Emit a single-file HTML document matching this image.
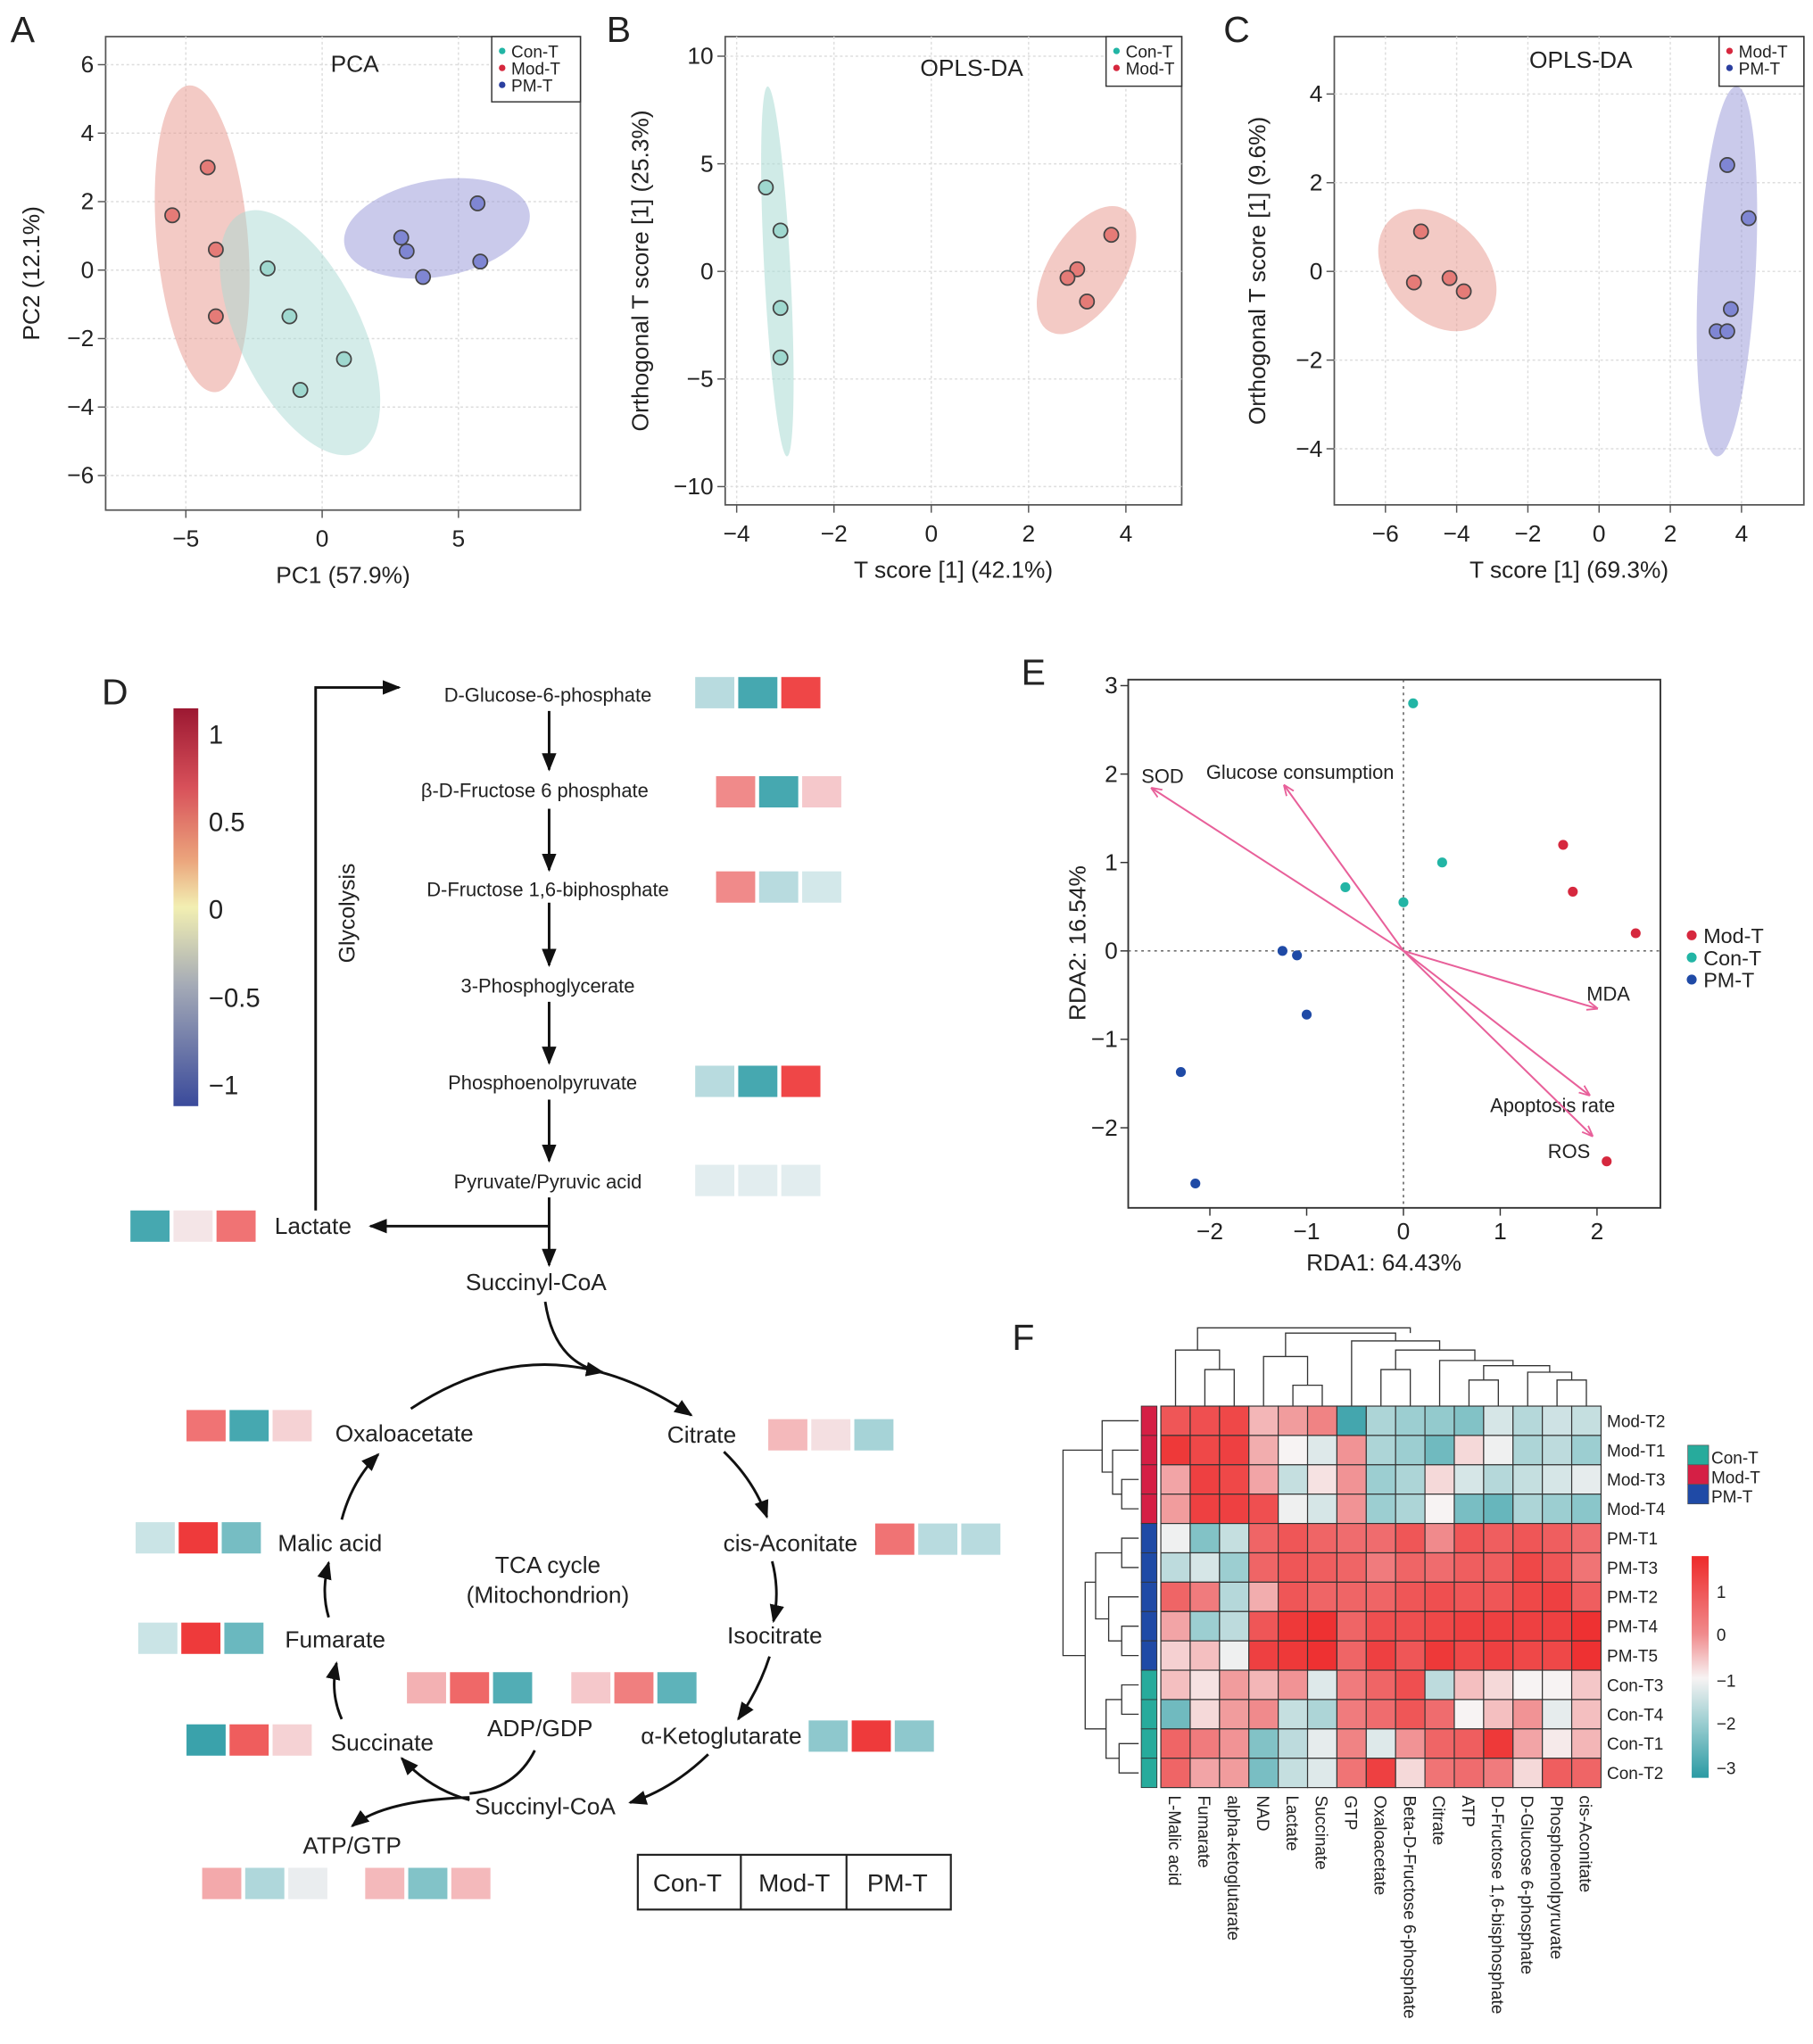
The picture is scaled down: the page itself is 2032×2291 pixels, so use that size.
<!DOCTYPE html>
<html><head><meta charset="utf-8"><style>
html,body{margin:0;padding:0;background:#fff}
svg{display:block}
text{font-family:"Liberation Sans",Arial,sans-serif;fill:#222}
</style></head><body>
<svg id="fig" width="2032" height="2291" viewBox="0 0 1390 1567" xmlns="http://www.w3.org/2000/svg">
<defs>
<marker id="ah" viewBox="0 0 10 10" refX="9" refY="5" markerWidth="7" markerHeight="7" orient="auto-start-reverse"><path d="M0,1 L10,5 L0,9 z" fill="#111"/></marker>
<marker id="ahp" viewBox="0 0 10 10" refX="9" refY="5" markerWidth="6" markerHeight="6" orient="auto"><path d="M0,1 L10,5 L0,9" fill="none" stroke="#e8609a" stroke-width="1.5"/></marker>
<linearGradient id="gD" x1="0" y1="0" x2="0" y2="1">
<stop offset="0" stop-color="#9c1832"/><stop offset="0.2" stop-color="#d8515a"/><stop offset="0.38" stop-color="#eba47c"/><stop offset="0.5" stop-color="#f2efb2"/><stop offset="0.7" stop-color="#a3a9b6"/><stop offset="1" stop-color="#3a4a9b"/></linearGradient>
<linearGradient id="gF" x1="0" y1="0" x2="0" y2="1">
<stop offset="0" stop-color="#ee2a2a"/><stop offset="0.35" stop-color="#f08a8c"/><stop offset="0.55" stop-color="#f7f3f3"/><stop offset="0.75" stop-color="#9cced1"/><stop offset="1" stop-color="#2a9aa3"/></linearGradient>
</defs>

<g font-size="28">
<text x="8" y="32">A</text><text x="465" y="32">B</text><text x="938" y="32">C</text>
<text x="78" y="540">D</text><text x="783" y="525">E</text><text x="776" y="1035">F</text>
</g>

<g id="pA"></g>
<g id="pB"></g>
<g id="pC"></g>
<g id="pE"></g>
<g id="pF"></g>

<g>
<rect x="133" y="543" width="19" height="305" fill="url(#gD)"/>
<g font-size="20">
<text x="160" y="570">1</text><text x="160" y="637">0.5</text><text x="160" y="704">0</text><text x="160" y="772">−0.5</text><text x="160" y="839">−1</text></g>
<text font-size="17" transform="translate(272,700) rotate(-90)" text-anchor="middle">Glycolysis</text>
<g font-size="15" text-anchor="middle">
<text x="420" y="538">D-Glucose-6-phosphate</text>
<text x="410" y="611">β-D-Fructose 6 phosphate</text>
<text x="420" y="687">D-Fructose 1,6-biphosphate</text>
<text x="420" y="761">3-Phosphoglycerate</text>
<text x="416" y="835">Phosphoenolpyruvate</text>
<text x="420" y="911">Pyruvate/Pyruvic acid</text>
</g>
<g font-size="18" text-anchor="middle">
<text x="240" y="946">Lactate</text><text x="411" y="989">Succinyl-CoA</text>
<text x="310" y="1105">Oxaloacetate</text><text x="538" y="1106">Citrate</text>
<text x="253" y="1189">Malic acid</text><text x="606" y="1189">cis-Aconitate</text>
<text x="420" y="1206">TCA cycle</text><text x="420" y="1229">(Mitochondrion)</text>
<text x="257" y="1263">Fumarate</text><text x="594" y="1260">Isocitrate</text>
<text x="414" y="1331">ADP/GDP</text><text x="553" y="1337">α-Ketoglutarate</text>
<text x="293" y="1342">Succinate</text><text x="418" y="1391">Succinyl-CoA</text>
<text x="270" y="1421">ATP/GTP</text>
</g>
<g stroke="#111" stroke-width="2" fill="none">
<path d="M421,545 V590" marker-end="url(#ah)"/><path d="M421,620 V667" marker-end="url(#ah)"/>
<path d="M421,692 V740" marker-end="url(#ah)"/><path d="M421,768 V815" marker-end="url(#ah)"/>
<path d="M421,843 V890" marker-end="url(#ah)"/><path d="M421,918 V970" marker-end="url(#ah)"/>
<path d="M421,940 H284" marker-end="url(#ah)"/>
<path d="M242,928 V527 H306" marker-end="url(#ah)"/>
<path d="M418,998 Q425,1045 462,1052" marker-end="url(#ah)"/>
<path d="M315,1080 Q420,1010 530,1085" marker-end="url(#ah)"/>
<path d="M555,1113 Q578,1135 588,1163" marker-end="url(#ah)"/>
<path d="M592,1197 Q598,1220 593,1243" marker-end="url(#ah)"/>
<path d="M590,1270 Q582,1295 566,1318" marker-end="url(#ah)"/>
<path d="M543,1345 Q515,1372 483,1382" marker-end="url(#ah)"/>
<path d="M360,1380 Q330,1372 308,1348" marker-end="url(#ah)"/>
<path d="M262,1318 Q253,1298 258,1275" marker-end="url(#ah)"/>
<path d="M252,1240 Q246,1220 252,1198" marker-end="url(#ah)"/>
<path d="M262,1165 Q270,1135 290,1115" marker-end="url(#ah)"/>
<path d="M410,1342 Q395,1372 360,1375"/>
<path d="M360,1378 Q295,1380 270,1400" marker-end="url(#ah)"/>
</g>
<g id="sq"></g>
<g fill="none" stroke="#222" stroke-width="1.5">
<rect x="489" y="1422" width="240" height="42"/><line x1="568" y1="1422" x2="568" y2="1464"/><line x1="649" y1="1422" x2="649" y2="1464"/></g>
<g font-size="19" text-anchor="middle"><text x="527" y="1450">Con-T</text><text x="609" y="1450">Mod-T</text><text x="688" y="1450">PM-T</text></g>
</g>
</svg>

<script>
// ---------- data ----------
const pcaCon=[[-2.0,0.05],[-1.2,-1.35],[0.8,-2.6],[-0.8,-3.5]];
const pcaMod=[[-4.2,3.0],[-5.5,1.6],[-3.9,0.6],[-3.9,-1.35]];
const pcaPM=[[2.9,0.95],[3.1,0.55],[3.7,-0.2],[5.7,1.95],[5.8,0.25]];
const oplsBCon=[[-3.4,3.9],[-3.1,1.9],[-3.1,-1.7],[-3.1,-4.0]];
const oplsBMod=[[3.7,1.7],[3.0,0.1],[2.8,-0.3],[3.2,-1.4]];
const oplsCMod=[[-5.0,0.9],[-5.2,-0.25],[-4.2,-0.15],[-3.8,-0.45]];
const oplsCPM=[[3.6,2.4],[4.2,1.2],[3.7,-0.85],[3.3,-1.35],[3.6,-1.35]];
const ticksAx=[-5,0,5], ticksAy=[-6,-4,-2,0,2,4,6];
const ticksBx=[-4,-2,0,2,4], ticksBy=[-10,-5,0,5,10];
const ticksCx=[-6,-4,-2,0,2,4], ticksCy=[-4,-2,0,2,4];
const rdaCon=[[0.1,2.8],[0.4,1.0],[0.0,0.55],[-0.6,0.72]];
const rdaMod=[[1.65,1.2],[1.75,0.67],[2.4,0.2],[2.1,-2.38]];
const rdaPM=[[-1.25,0.0],[-1.1,-0.05],[-1.0,-0.72],[-2.3,-1.37],[-2.15,-2.63]];
const rdaVarNames=["SOD","Glucose consumption","MDA","Apoptosis rate","ROS"];
const rdaVarX=[-2.6,-1.23,2.0,1.92,1.95];
const rdaVarY=[1.84,1.87,-0.65,-1.63,-2.09];
const ticksEx=[-2,-1,0,1,2], ticksEy=[-2,-1,0,1,2,3];
const heatCols=["L-Malic acid","Fumarate","alpha-ketoglutarate","NAD","Lactate","Succinate","GTP","Oxaloacetate","Beta-D-Fructose 6-phosphate","Citrate","ATP","D-Fructose 1,6-bisphosphate","D-Glucose 6-phosphate","Phosphoenolpyruvate","cis-Aconitate"];
const heatRows=["Mod-T2","Mod-T1","Mod-T3","Mod-T4","PM-T1","PM-T3","PM-T2","PM-T4","PM-T5","Con-T3","Con-T4","Con-T1","Con-T2"];
const heatGroups=["Mod","Mod","Mod","Mod","PM","PM","PM","PM","PM","Con","Con","Con","Con"];
const heatVals=[
[1,1.1,1.2,-0.2,0.1,0.4,-3,-1.8,-2,-2.1,-2.3,-1.3,-1.7,-1.4,-1.5],
[1.4,1.2,1.3,-0.1,-0.9,-1.2,0.2,-1.8,-2,-2.5,-0.6,-1,-1.8,-1.6,-2],
[0,1.3,1.2,0,-1.5,-0.7,0.2,-2,-1.8,-0.6,-1.3,-1.7,-1.5,-1.3,-1.1],
[0.1,1.3,1.3,1.1,-1,-1.3,0.2,-2,-1.8,-0.9,-2.4,-2.6,-1.8,-2,-2.2],
[-1,-2.3,-1.5,0.8,1,0.8,0.7,0.7,1,0.3,1,0.9,1,0.9,0.7],
[-1.6,-1.3,-2,0.8,1,0.9,0.8,0.5,0.8,0.7,0.9,0.9,1.2,1,0.6],
[0.8,0.5,-1.7,-0.1,1,0.8,0.8,0.8,1,1.1,1,1,1.2,1.3,0.9],
[0,-2,-1.6,1,1.4,1.5,0.8,1.1,1.1,1.2,1.3,1.3,1.3,1.3,1.5],
[-0.5,-0.3,-1,1.3,1.4,1.5,0.8,1.3,1,1.4,1.2,1.3,1.2,1.2,1.5],
[-0.3,-0.7,0.1,-0.2,0.2,-1.2,0.5,0.8,1.1,-1.6,-0.3,-0.6,-0.9,-0.9,-0.4],
[-2.5,-0.6,0.1,0.3,-1.5,-1.8,0.5,0.7,1,0.7,-0.9,-0.3,0.2,-1.1,-0.3],
[0.8,0.5,0.2,-2.3,-1.6,-1.1,0.4,-1.2,0.2,0.8,0.9,1.4,0,-0.8,-0.2],
[0.8,0,0.1,-2.4,-1.5,-1.2,0.6,1.3,-0.6,0.6,0.7,0.5,-0.6,0.9,0.8]];
const sqNames=["glucose-6-phosphate","fructose-6-phosphate","fructose-16-biphosphate","phosphoenolpyruvate","pyruvate","lactate","oxaloacetate","citrate","malic-acid","cis-aconitate","fumarate","adp","gdp","succinate","alpha-ketoglutarate","atp","gtp"];
const sqVals=[[-0.4,-0.9,0.9],[0.6,-0.9,0.2],[0.6,-0.4,-0.25],[-0.4,-0.9,0.9],[-0.15,-0.15,-0.15],[-0.9,0.05,0.7],[0.7,-0.9,0.15],[0.3,0.08,-0.5],[-0.3,0.95,-0.7],[0.7,-0.4,-0.4],[-0.3,0.95,-0.75],[0.35,0.75,-0.85],[0.2,0.65,-0.8],[-0.95,0.8,0.15],[-0.6,0.95,-0.6],[0.4,-0.45,-0.08],[0.3,-0.65,0.3]];
const sqX=[533,549,549,533,533,100,143,589,104,671,106,312,438,143,620,155,280];
const sqY=[519,595,668,817,893,928,1081,1088,1167,1168,1244,1282,1282,1322,1319,1432,1432];

// ---------- helpers ----------
const NS="http://www.w3.org/2000/svg";
function mk(parent,tag,attrs,txt){const e=document.createElementNS(NS,tag);for(const k in attrs)e.setAttribute(k,attrs[k]);if(txt!==undefined)e.textContent=txt;parent.appendChild(e);return e;}
function lerp(a,b,t){return a+(b-a)*t}
function hex(c){return [parseInt(c.slice(1,3),16),parseInt(c.slice(3,5),16),parseInt(c.slice(5,7),16)]}
function ramp(stops,v){if(v>=stops[0][0])return stops[0][1];for(let i=0;i<stops.length-1;i++){const a=stops[i],b=stops[i+1];if(v<=a[0]&&v>=b[0]){const t=(a[0]-v)/(a[0]-b[0]);const ca=hex(a[1]),cb=hex(b[1]);return `rgb(${Math.round(lerp(ca[0],cb[0],t))},${Math.round(lerp(ca[1],cb[1],t))},${Math.round(lerp(ca[2],cb[2],t))})`;}}return stops[stops.length-1][1];}
const heatStops=[[1.6,"#ee2a2a"],[0.3,"#f08a8c"],[-0.9,"#f7f3f3"],[-2.0,"#9cced1"],[-3.3,"#2a9aa3"]];
const sqStops=[[1,"#ee2f30"],[0.6,"#f08a8a"],[0.2,"#f5c8cb"],[0,"#f4eef0"],[-0.2,"#dcecee"],[-0.5,"#a6d3d7"],[-1,"#2e9da6"]];
function fmt(t){return t<0?"−"+(-t):""+t}

function scatterPanel(g,box,sx,sy,tx,ty,title,titlePos,xlab,ylab,ylabX,xtickY,groups,ells,legend){
  const r=mk(g,"rect",{x:box[0],y:box[1],width:box[2]-box[0],height:box[3]-box[1],fill:"none",stroke:"#555","stroke-width":1.2});
  
  for(const t of tx){mk(g,"line",{x1:sx(t),x2:sx(t),y1:box[1],y2:box[3],stroke:"#ddd","stroke-dasharray":"2,2"});
    mk(g,"line",{x1:sx(t),x2:sx(t),y1:box[3],y2:box[3]+6,stroke:"#555"});
    const l=mk(g,"text",{x:sx(t),y:xtickY,"font-size":18,"text-anchor":"middle"},fmt(t));
    }
  for(const t of ty){mk(g,"line",{x1:box[0],x2:box[2],y1:sy(t),y2:sy(t),stroke:"#ddd","stroke-dasharray":"2,2"});
    mk(g,"line",{x1:box[0]-6,x2:box[0],y1:sy(t),y2:sy(t),stroke:"#555"});
    const l=mk(g,"text",{x:box[0]-9,y:sy(t)+6,"font-size":18,"text-anchor":"end"},fmt(t));
    }
  for(const e of ells){const el=mk(g,"ellipse",{cx:e[0],cy:e[1],rx:e[2],ry:e[3],fill:e[5],transform:`rotate(${e[4]} ${e[0]} ${e[1]})`});
    }
  for(const gr of groups){for(const p of gr[0]){const c=mk(g,"circle",{cx:sx(p[0]),cy:sy(p[1]),r:5.5,fill:gr[1],stroke:"#444","stroke-width":1.2});
    }}
  const tt=mk(g,"text",{x:titlePos[0],y:titlePos[1],"font-size":18,"text-anchor":"middle"},title);
  
  const xl=mk(g,"text",{x:(box[0]+box[2])/2,y:xtickY+28,"font-size":18,"text-anchor":"middle"},xlab);
  
  const yl=mk(g,"text",{x:0,y:0,"font-size":18,"text-anchor":"middle",transform:`translate(${ylabX},${(box[1]+box[3])/2}) rotate(-90)`},ylab);
  
  const lg=mk(g,"g",{});
  
  mk(lg,"rect",{x:legend[0],y:box[1],width:box[2]-legend[0],height:legend[1],fill:"#fff",stroke:"#333","stroke-width":1});
  legend[2].forEach((it,i)=>{mk(lg,"circle",{cx:legend[0]+8,cy:box[1]+11+i*13,r:2.5,fill:it[1]});
    const lt=mk(lg,"text",{x:legend[0]+15,y:box[1]+16+i*13,"font-size":13},it[0]);
    });
}

const xA=v=>247+v*20.9, yA=v=>207-v*26.25;
scatterPanel(document.getElementById("pA"),[81,28,445,391],xA,yA,ticksAx,ticksAy,"PCA",[272,55],"PC1 (57.9%)","PC2 (12.1%)",30,419,
 [[pcaMod,"#e57b77"],[pcaCon,"#9fd8cf"],[pcaPM,"#7f86d3"]],
 [[155,183,35,118,-5,"rgba(232,150,140,0.5)"],[230,255,47,102,-26,"rgba(170,218,212,0.5)"],[335,175,72,37,-10,"rgba(150,150,215,0.5)"]],
 [377,50,[["Con-T","#22b5a5"],["Mod-T","#d6283e"],["PM-T","#2b3fa0"]]]);
const xB=v=>714+v*37.3, yB=v=>208-v*16.5;
scatterPanel(document.getElementById("pB"),[556,28,906,387],xB,yB,ticksBx,ticksBy,"OPLS-DA",[745,58],"T score [1] (42.1%)","Orthogonal T score [1] (25.3%)",497,415,
 [[oplsBCon,"#9fd8cf"],[oplsBMod,"#e57b77"]],
 [[596,208,10,142,-3,"rgba(170,218,212,0.55)"],[833,207,29,55,32,"rgba(232,150,140,0.5)"]],
 [848,38,[["Con-T","#22b5a5"],["Mod-T","#d6283e"]]]);
const xC=v=>1226+v*27.3, yC=v=>208-v*34;
scatterPanel(document.getElementById("pC"),[1023,28,1383,387],xC,yC,ticksCx,ticksCy,"OPLS-DA",[1212,52],"T score [1] (69.3%)","Orthogonal T score [1] (9.6%)",970,415,
 [[oplsCMod,"#e57b77"],[oplsCPM,"#7f86d3"]],
 [[1102,207,38,53,-42,"rgba(232,150,140,0.5)"],[1324,208,22,142,3,"rgba(150,150,215,0.5)"]],
 [1318,38,[["Mod-T","#d6283e"],["PM-T","#2b3fa0"]]]);

(function(){
 const g=document.getElementById("pE");
 const xE=v=>1076+v*74.2, yE=v=>729-v*67.8;
 const fr=mk(g,"rect",{x:865,y:521,width:408,height:405,fill:"none",stroke:"#333","stroke-width":1.3});
 
 mk(g,"line",{x1:xE(0),x2:xE(0),y1:521,y2:926,stroke:"#555","stroke-dasharray":"2,3"});
 mk(g,"line",{x1:865,x2:1273,y1:yE(0),y2:yE(0),stroke:"#555","stroke-dasharray":"2,3"});
 for(const t of ticksEx){mk(g,"line",{x1:xE(t),x2:xE(t),y1:926,y2:932,stroke:"#333"});
  const l=mk(g,"text",{x:xE(t),y:950,"font-size":18,"text-anchor":"middle"},fmt(t));
  }
 for(const t of ticksEy){mk(g,"line",{x1:859,x2:865,y1:yE(t),y2:yE(t),stroke:"#333"});
  const l=mk(g,"text",{x:857,y:yE(t)+6,"font-size":18,"text-anchor":"end"},fmt(t));
  }
 const xl=mk(g,"text",{x:1061,y:974,"font-size":18,"text-anchor":"middle"},"RDA1: 64.43%");
 
 const yl=mk(g,"text",{x:0,y:0,"font-size":18,"text-anchor":"middle",transform:"translate(832,723) rotate(-90)"},"RDA2: 16.54%");
 
 const lblOff=[[-8,-4],[-60,-5],[-8,-6],[-76,13],[-34,17]];
 rdaVarNames.forEach((n,i)=>{const a=mk(g,"line",{x1:xE(0),y1:yE(0),x2:xE(rdaVarX[i]),y2:yE(rdaVarY[i]),stroke:"#e8609a","stroke-width":1.4,"marker-end":"url(#ahp)"});
  
  const t=mk(g,"text",{x:xE(rdaVarX[i])+lblOff[i][0],y:yE(rdaVarY[i])+lblOff[i][1],"font-size":15},n);
  });
 for(const gr of [[rdaCon,"#22b5a5"],[rdaMod,"#d6283e"],[rdaPM,"#1f4aa6"]]){for(const p of gr[0]){const c=mk(g,"circle",{cx:xE(p[0]),cy:yE(p[1]),r:3.8,fill:gr[1]});
  }}
 [["Mod-T","#d6283e"],["Con-T","#22b5a5"],["PM-T","#1f4aa6"]].forEach((it,i)=>{mk(g,"circle",{cx:1297,cy:717+i*17,r:3.8,fill:it[1]});
  const t=mk(g,"text",{x:1306,y:723+i*17,"font-size":16},it[0]);
  });
})();

(function(){
 const g=document.getElementById("pF");
 const x0=890,y0=1078,cw=22.5,ch=22.5;
 const gc={Mod:"#d51f45",PM:"#1f4aa6",Con:"#27ab9c"};
 heatVals.forEach((row,r)=>{row.forEach((v,c)=>{const e=mk(g,"rect",{x:x0+c*cw,y:y0+r*ch,width:cw,height:ch,fill:ramp(heatStops,v),stroke:"#333","stroke-width":0.8});
   });
  const a=mk(g,"rect",{x:875,y:y0+r*ch,width:12,height:ch,fill:gc[heatGroups[r]],stroke:"#333","stroke-width":0.6});
  
  const t=mk(g,"text",{x:1232,y:y0+r*ch+16,"font-size":13},heatRows[r]);
  });
 heatCols.forEach((n,c)=>{const t=mk(g,"text",{x:0,y:0,"font-size":13,transform:`translate(${x0+c*cw+cw/2-5},${y0+13*ch+6}) rotate(90)`},n);
  });
 const cx=i=>x0+cw*(i+0.5);
 const top=mk(g,"path",{fill:"none",stroke:"#333","stroke-width":0.9,d:
  `M${cx(1)},1078V1050H${cx(2)}V1078 M${cx(0)},1078V1035H${(cx(1)+cx(2))/2}V1050 M${(cx(0)+cx(1.5))/2},1035V1018H${cx(8)}V1022 `+
  `M${cx(4)},1078V1062H${cx(5)}V1078 M${cx(3)},1078V1040H${(cx(4)+cx(5))/2}V1062 `+
  `M${cx(7)},1078V1050H${cx(8)}V1078 M${cx(10)},1078V1058H${cx(11)}V1078 M${cx(13)},1078V1058H${cx(14)}V1078 M${cx(12)},1078V1052H${(cx(13)+cx(14))/2}V1058 `+
  `M${(cx(10)+cx(11))/2},1058V1047H${(cx(12)+cx(13.5))/2}V1052 M${cx(9)},1078V1043H${cx(11.5)}V1047 M${(cx(7)+cx(8))/2},1050V1035H${cx(10.2)}V1043 `+
  `M${cx(6)},1078V1028H${cx(9)}V1035 M${(cx(3)+cx(4.5))/2},1040V1022H${cx(7.5)}V1028`});
 
 const ry=i=>y0+ch*(i+0.5);
 const left=mk(g,"path",{fill:"none",stroke:"#333","stroke-width":0.9,d:
  `M873,${ry(2)}H860V${ry(3)}H873 M873,${ry(1)}H853V${(ry(2)+ry(3))/2}H860 M873,${ry(0)}H845V${(ry(1)+ry(2.5))/2}H853 `+
  `M873,${ry(4)}H860V${ry(5)}H873 M873,${ry(7)}H860V${ry(8)}H873 M873,${ry(6)}H850V${ry(7.5)}H860 M860,${ry(4.5)}H840V${(ry(6)+ry(7.5))/2}H850 `+
  `M873,${ry(9)}H860V${ry(10)}H873 M873,${ry(11)}H858V${ry(12)}H873 M860,${ry(9.5)}H848V${ry(11.5)}H858 `+
  `M848,${ry(10.5)}H832V${ry(5.5)}H840 M845,${ry(1)}H815V${ry(8)}H832`});
 
 [["Con-T",gc.Con],["Mod-T",gc.Mod],["PM-T",gc.PM]].forEach((it,i)=>{mk(g,"rect",{x:1294,y:1108+i*15,width:16,height:15,fill:it[1],stroke:"#555","stroke-width":0.5});
  const t=mk(g,"text",{x:1312,y:1122+i*15,"font-size":13},it[0]);
  });
 const cb=mk(g,"rect",{x:1297,y:1193,width:13,height:170,fill:"url(#gF)"});
 
 [["1",1225],["0",1258],["−1",1293],["−2",1326],["−3",1360]].forEach(l=>{const t=mk(g,"text",{x:1316,y:l[1],"font-size":13},l[0]);
  });
})();

(function(){
 const g=document.getElementById("sq");
 sqVals.forEach((vals,i)=>{vals.forEach((v,j)=>{const e=mk(g,"rect",{x:sqX[i]+j*33,y:sqY[i],width:30,height:24,fill:ramp(sqStops,v)});
   });});
})();
</script>
</body></html>
